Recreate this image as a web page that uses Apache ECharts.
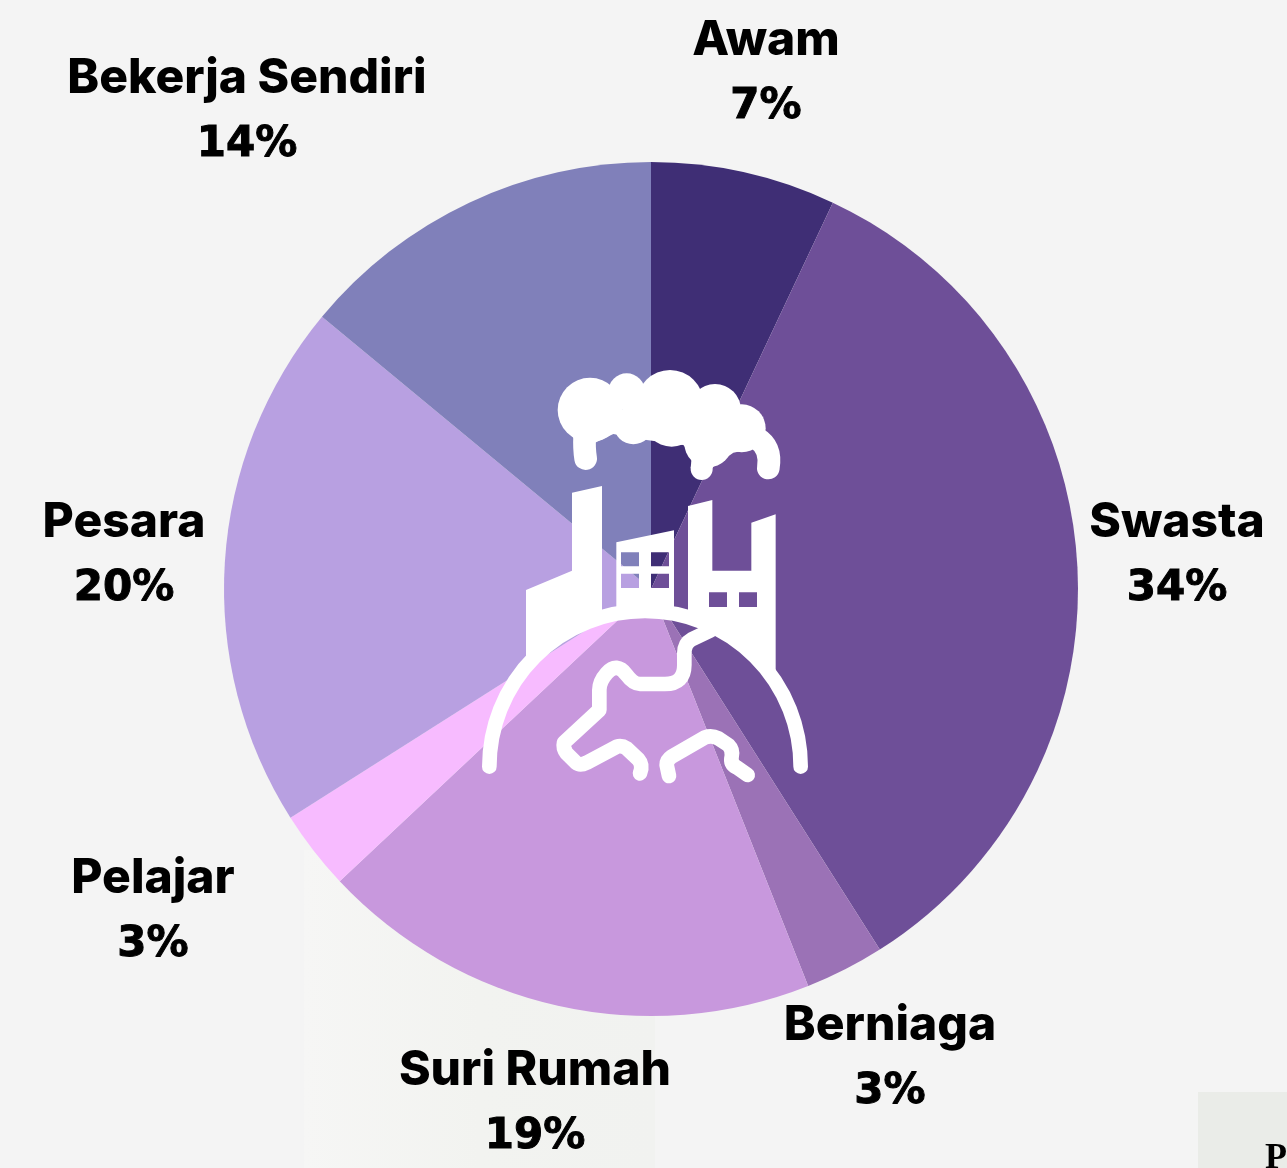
<!DOCTYPE html>
<html><head><meta charset="utf-8">
<style>html,body{margin:0;padding:0;background:#f4f4f4;overflow:hidden}#c{width:1287px;height:1168px}</style>
<script src="https://cdn.jsdelivr.net/npm/echarts@6/dist/echarts.min.js"></script>
</head><body><div id="c"></div>
<script>
const categories = ['Awam','Swasta','Berniaga','Suri Rumah','Pelajar','Pesara','Bekerja Sendiri'];
const values = [7,34,3,19,3,20,14];
const colors = ['#3f2e75','#6e4f98','#9b72b6','#c898dd','#f7bbff','#b8a0e1','#8080ba'];
const labelAnchors = {'Awam':[766,74],'Swasta':[1177,556],'Berniaga':[890,1059],'Suri Rumah':[535,1104],'Pelajar':[153,912],'Pesara':[124,556],'Bekerja Sendiri':[247,112]};

const chart = echarts.init(document.getElementById('c'), null, {renderer:'canvas', width:1287, height:1168});
const W = '#ffffff';
const Z = 100;
let shapeId = 0;
const pathEl = (d, style) => {
  const name = 'iconPath' + (shapeId++);
  echarts.graphic.registerShape(name, echarts.graphic.extendPath(d, {}));
  return {type:name, z:Z, style};
};
const strokeP = (d, w) => pathEl(d, {fill:null, stroke:W, lineWidth:w||44, lineCap:'round', lineJoin:'round'});
const fillP = d => pathEl(d, {fill:W});
const circ = (cx,cy,r) => ({type:'circle', z:Z, shape:{cx,cy,r}, style:{fill:W}});
const icon = [
  circ(360,150,97),circ(470,95,55),circ(490,195,58),circ(600,130,100),circ(605,175,85),circ(735,150,78),circ(815,205,72),circ(715,250,72),
  fillP('M310 170 L880 170 L868 262 L790 278 L730 320 L660 280 L640 255 L530 240 L430 222 L375 248 L310 235 Z'),
  strokeP('M344 225 Q342 265 347 296', 68),
  fillP('M665 290 L662 325 L728 325 L735 300 Z'),
  circ(695,327,33),
  strokeP('M860 235 Q905 262 895 324', 68),
  fillP('M168 690 L306 632 L306 398 L396 378 L396 771 A467 467 0 0 0 168 919 Z'),
  fillP('M439 547 L612 511 L612 761 A467 467 0 0 0 439 761 Z M453 577 L453 619 L507 619 L507 577 Z M543 577 L543 619 L597 619 L597 577 Z M453 641 L453 684 L507 684 L507 641 Z M543 641 L543 684 L597 684 L597 641 Z'),
  fillP('M654 438 L727 420 L727 632 L844 632 L844 488 L917 463 L917 966 A467 467 0 0 0 654 771 Z M717 697 L717 741 L771 741 L771 697 Z M807 697 L807 741 L861 741 L861 697 Z'),
  strokeP('M58 1220 A467 467 0 0 1 992 1220'),
  strokeP('M720 812 L665 838 Q643 850 643 880 L643 915 Q643 972 585 972 L510 972 Q490 972 470 945 Q440 905 410 940 Q388 965 388 990 L388 1050 L282 1148 Q278 1165 290 1180 L318 1208 Q330 1218 350 1208 L440 1160 Q455 1155 470 1165 L505 1198 Q520 1215 510 1240'),
  strokeP('M597 1248 L590 1215 Q590 1200 605 1190 L705 1132 Q725 1125 745 1135 L775 1155 Q790 1170 785 1190 Q780 1212 800 1222 L833 1245')
];
chart.setOption({
  animation:false,
  backgroundColor:'#f4f4f4',
  graphic:[
    {type:'rect',z:-2,shape:{x:304,y:850,width:351,height:318},style:{fill:{type:'linear',x:0,y:0,x2:1,y2:0,colorStops:[{offset:0,color:'#f6f6f5'},{offset:0.5,color:'#f2f3f0'},{offset:1,color:'#f1f2f0'}]}}},
    {type:'rect',z:-2,shape:{x:1198,y:1092,width:89,height:76},style:{fill:'#eaece8'}},
    {type:'text',z:-1,x:1265,y:1141,style:{text:'P',fill:'#000',font:'bold 36px "Liberation Serif"'}},
    {type:'group',x:470,y:360,scaleX:1/3,scaleY:1/3,z:Z,children:icon}
  ],
  series:[{
    type:'pie',center:[651,589],radius:427,startAngle:90,clockwise:true,silent:true,
    itemStyle:{borderWidth:0},
    labelLine:{show:false},
    data:categories.map((n,i)=>({name:n,value:values[i],itemStyle:{color:colors[i]}})),
    label:{show:true,position:'outside',overflow:'none',formatter:p=>'{n|'+p.name+'}\n{p|'+p.value+'%}',
      rich:{n:{fontFamily:'Inter',fontWeight:800,fontSize:48,lineHeight:66,color:'#000',align:'center'},
            p:{fontFamily:'DejaVu Sans',fontWeight:'bold',fontSize:42,lineHeight:66,color:'#000',align:'center',textBorderColor:'#000',textBorderWidth:1}}},
    labelLayout:p=>{const a=labelAnchors[categories[p.dataIndex]];return {x:a[0],y:a[1],align:'center',verticalAlign:'middle',hideOverlap:false};}
  }]
});
</script></body></html>
